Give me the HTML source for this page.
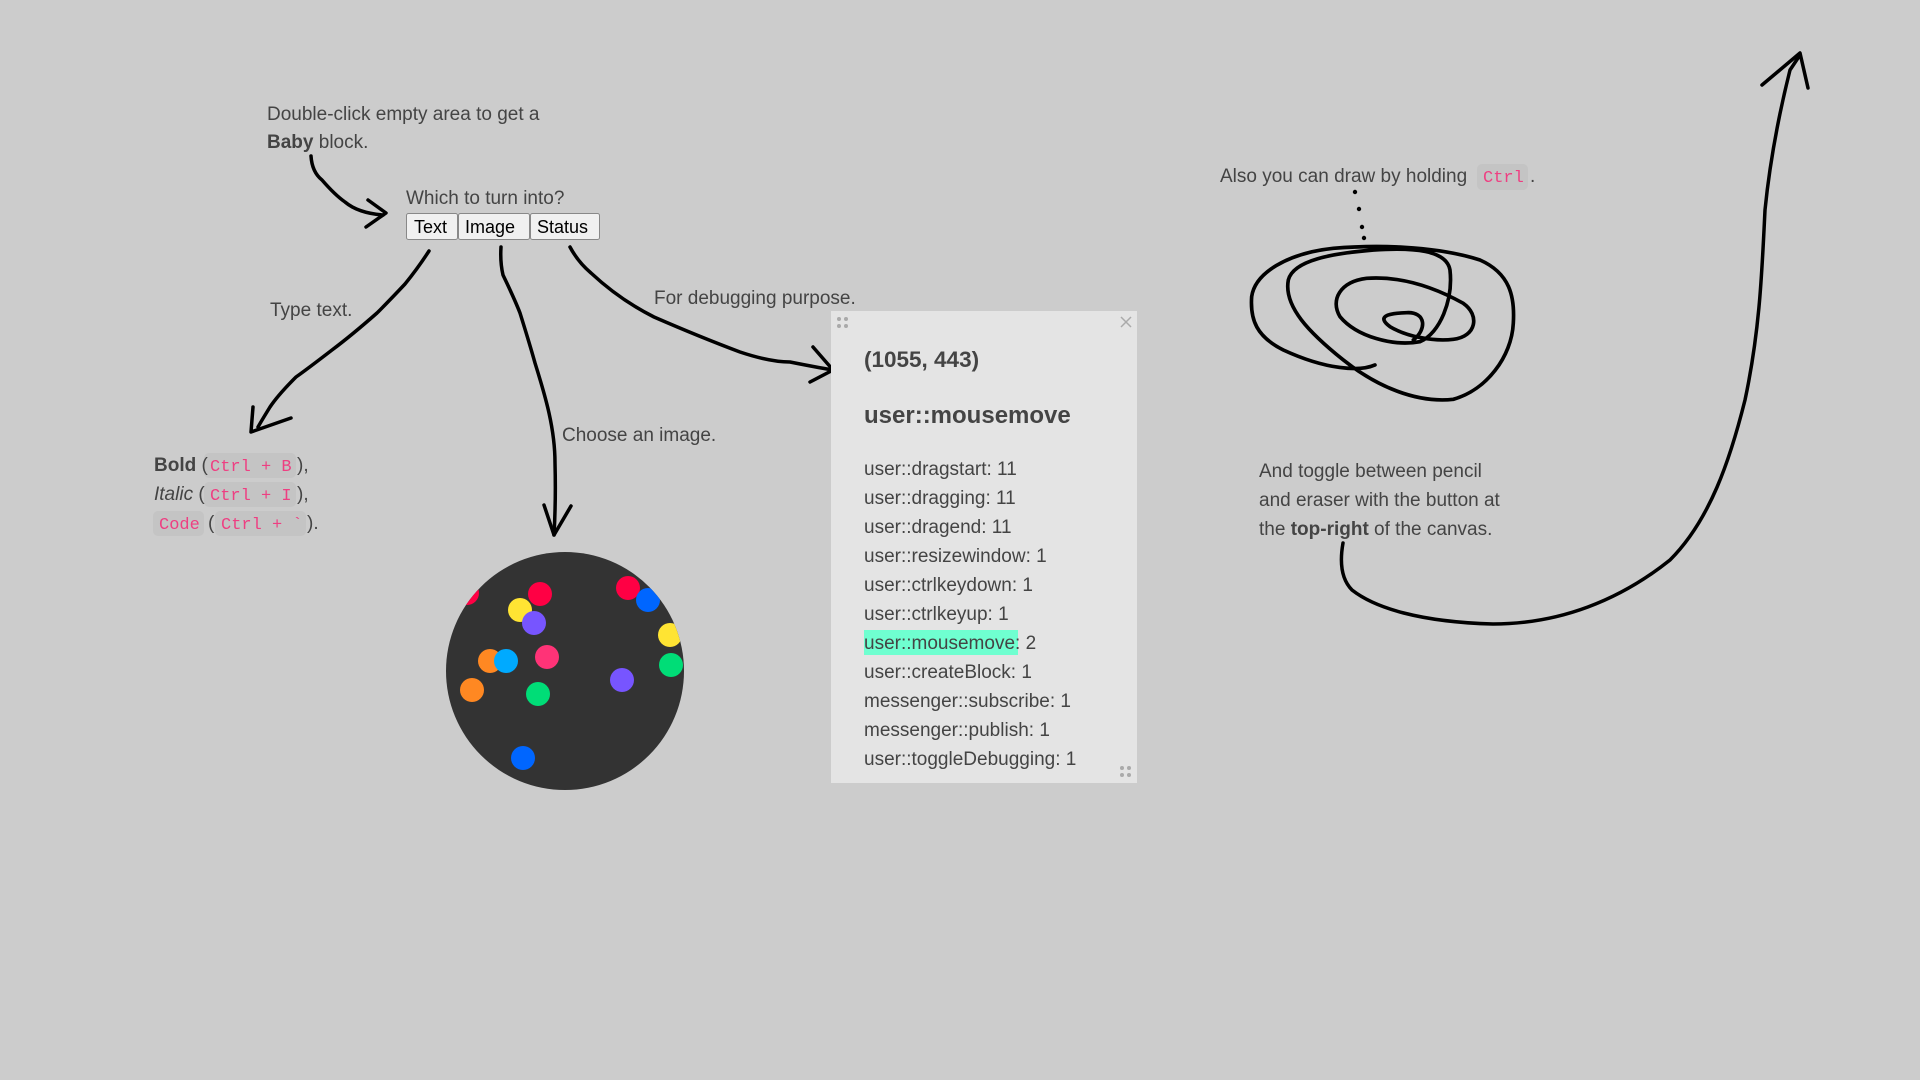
<!DOCTYPE html>
<html><head><meta charset="utf-8"><style>
html,body{margin:0;padding:0;background:#cccccc;}
svg{display:block}
.t{font-family:"Liberation Sans",sans-serif;font-size:19px;fill:#444;}
.m{font-family:"Liberation Mono",monospace;font-size:17px;fill:#ee3f82;}
.p{font-family:"Liberation Sans",sans-serif;font-size:19px;fill:#444;}
.a{fill:none;stroke:#000;stroke-width:3.5;stroke-linecap:round;stroke-linejoin:round;}
</style></head><body>
<svg width="1920" height="1080" viewBox="0 0 1920 1080" xmlns="http://www.w3.org/2000/svg">
<rect width="1920" height="1080" fill="#cccccc"/>
<text class="t" x="267" y="120">Double-click empty area to get a</text>
<text class="t" x="267" y="148"><tspan font-weight="bold">Baby</tspan> block.</text>
<text class="t" x="406" y="204">Which to turn into?</text>
<g font-family="Liberation Sans,sans-serif" font-size="18" fill="#000">
<rect x="406.5" y="213.5" width="51" height="26" fill="#f0f0f0" stroke="#888" rx="2"/>
<rect x="458.5" y="213.5" width="71" height="26" fill="#f0f0f0" stroke="#888" rx="2"/>
<rect x="530.5" y="213.5" width="69" height="26" fill="#f0f0f0" stroke="#888" rx="2"/>
<text x="414" y="233">Text</text><text x="465" y="233">Image</text><text x="537" y="233">Status</text>
</g>
<text class="t" x="270" y="316">Type text.</text>
<text class="t" x="562" y="441">Choose an image.</text>
<text class="t" x="654" y="304">For debugging purpose.</text>
<rect x="204" y="453" width="92" height="25" rx="5" fill="#c4c4c4"/>
<rect x="204" y="482" width="92" height="25" rx="5" fill="#c4c4c4"/>
<rect x="153" y="511" width="51" height="25" rx="5" fill="#c4c4c4"/>
<rect x="215" y="511" width="91" height="25" rx="5" fill="#c4c4c4"/>
<text class="t" x="154" y="471"><tspan font-weight="bold">Bold</tspan> (</text>
<text class="m" x="210" y="471">Ctrl + B</text><text class="t" x="297" y="471">),</text>
<text class="t" x="154" y="500"><tspan font-style="italic">Italic</tspan> (</text>
<text class="m" x="210" y="500">Ctrl + I</text><text class="t" x="297" y="500">),</text>
<text class="m" x="159" y="529">Code</text><text class="t" x="208" y="529">(</text>
<text class="m" x="221" y="529">Ctrl + `</text><text class="t" x="307" y="529">).</text>
<path class="a" d="M311,156 Q312,172 322,180 Q335,195 345,202 Q358,213 383,215"/>
<path class="a" d="M368,200 L386,213 L366,227"/>
<path class="a" d="M429,251 Q418,268 405,284 Q390,300 377,313 Q352,335 332,350 Q306,370 296,377 Q278,395 270,407 Q262,420 258,427"/>
<path class="a" d="M253,407 L251,432 L291,418"/>
<path class="a" d="M501,247 Q500,262 503,275 Q515,300 520,313 Q530,345 535,363 Q545,395 549,413 Q555,440 555,463 Q556,500 554,535"/>
<path class="a" d="M544,505 L554,535 L571,506"/>
<path class="a" d="M570,247 Q578,262 591,273 Q620,300 654,317 Q700,337 740,352 Q770,362 790,362 Q815,367 833,370"/>
<path class="a" d="M813,347 L833,370 L810,382"/>
<defs><clipPath id="c"><circle cx="565" cy="671" r="119"/></clipPath></defs>
<circle cx="565" cy="671" r="119" fill="#333"/>
<g clip-path="url(#c)">
<circle cx="467" cy="593" r="12" fill="#ff0044"/>
<circle cx="540" cy="594" r="12" fill="#ff0044"/>
<circle cx="520" cy="610" r="12" fill="#ffe433"/>
<circle cx="534" cy="623" r="12" fill="#7755ff"/>
<circle cx="628" cy="588" r="12" fill="#ff0044"/>
<circle cx="648" cy="600" r="12" fill="#0066ff"/>
<circle cx="670" cy="635" r="12" fill="#ffe433"/>
<circle cx="671" cy="665" r="12" fill="#00dd77"/>
<circle cx="547" cy="657" r="12" fill="#ff3377"/>
<circle cx="490" cy="661" r="12" fill="#ff8822"/>
<circle cx="506" cy="661" r="12" fill="#00aaff"/>
<circle cx="472" cy="690" r="12" fill="#ff8822"/>
<circle cx="538" cy="694" r="12" fill="#00dd77"/>
<circle cx="622" cy="680" r="12" fill="#7755ff"/>
<circle cx="523" cy="758" r="12" fill="#0066ff"/>
</g>
<rect x="831" y="311" width="306" height="472" fill="#e4e4e4"/>
<g fill="#aaa"><circle cx="839" cy="319" r="2"/><circle cx="846" cy="319" r="2"/><circle cx="839" cy="326" r="2"/><circle cx="846" cy="326" r="2"/>
<circle cx="1122" cy="768" r="2"/><circle cx="1129" cy="768" r="2"/><circle cx="1122" cy="775" r="2"/><circle cx="1129" cy="775" r="2"/></g>
<path d="M1121,317 L1131,327 M1131,317 L1121,327" stroke="#aaa" stroke-width="1.5"/>
<text class="p" x="864" y="367" font-weight="bold" style="font-size:22.5px">(1055, 443)</text>
<text class="p" x="864" y="423" font-weight="bold" style="font-size:24px">user::mousemove</text>
<rect x="864" y="630" width="154" height="25" fill="#6fffd0"/>
<text class="p" x="864" y="475">user::dragstart: 11</text>
<text class="p" x="864" y="504">user::dragging: 11</text>
<text class="p" x="864" y="533">user::dragend: 11</text>
<text class="p" x="864" y="562">user::resizewindow: 1</text>
<text class="p" x="864" y="591">user::ctrlkeydown: 1</text>
<text class="p" x="864" y="620">user::ctrlkeyup: 1</text>
<text class="p" x="864" y="649">user::mousemove: 2</text>
<text class="p" x="864" y="678">user::createBlock: 1</text>
<text class="p" x="864" y="707">messenger::subscribe: 1</text>
<text class="p" x="864" y="736">messenger::publish: 1</text>
<text class="p" x="864" y="765">user::toggleDebugging: 1</text>
<text class="t" x="1220" y="182">Also you can draw by holding</text>
<rect x="1477" y="164" width="51" height="26" rx="5" fill="#c4c4c4"/>
<text class="m" x="1483" y="182">Ctrl</text>
<text class="t" x="1530" y="182">.</text>
<g fill="#000"><circle cx="1355" cy="192" r="2.2"/><circle cx="1359" cy="209" r="2.2"/><circle cx="1362" cy="227" r="2.2"/><circle cx="1364" cy="238" r="2.2"/></g>
<g transform="translate(1200,150) scale(0.3333)">
<path style="fill:none;stroke:#000;stroke-width:11;stroke-linecap:round;stroke-linejoin:round" d="M525,645 C480,665 380,660 250,600 C170,560 150,510 155,440 C165,370 260,310 400,295 C520,285 700,285 840,330 C930,370 945,440 940,520 C935,620 860,720 760,748 C650,760 530,710 430,630 C330,550 250,470 265,390 C280,330 400,310 520,300 C640,292 740,300 750,360 C760,450 720,550 660,575 C580,590 470,560 420,500 C390,450 420,395 500,385 C600,378 700,410 790,460 C840,495 830,560 760,568 C700,575 620,560 570,530 C530,500 560,490 620,488 C680,485 680,540 640,570"/>
</g>
<text class="t" x="1259" y="477">And toggle between pencil</text>
<text class="t" x="1259" y="506">and eraser with the button at</text>
<text class="t" x="1259" y="535">the <tspan font-weight="bold">top-right</tspan> of the canvas.</text>
<path class="a" d="M1343,543 C1340,560 1340,578 1352,590 C1375,608 1420,622 1493,624 C1560,624 1620,600 1670,560 C1710,520 1730,460 1745,400 C1760,330 1762,270 1765,210 C1770,160 1780,110 1790,70 L1800,55"/>
<path class="a" d="M1762,85 L1800,53 L1808,88"/>
</svg>
</body></html>
